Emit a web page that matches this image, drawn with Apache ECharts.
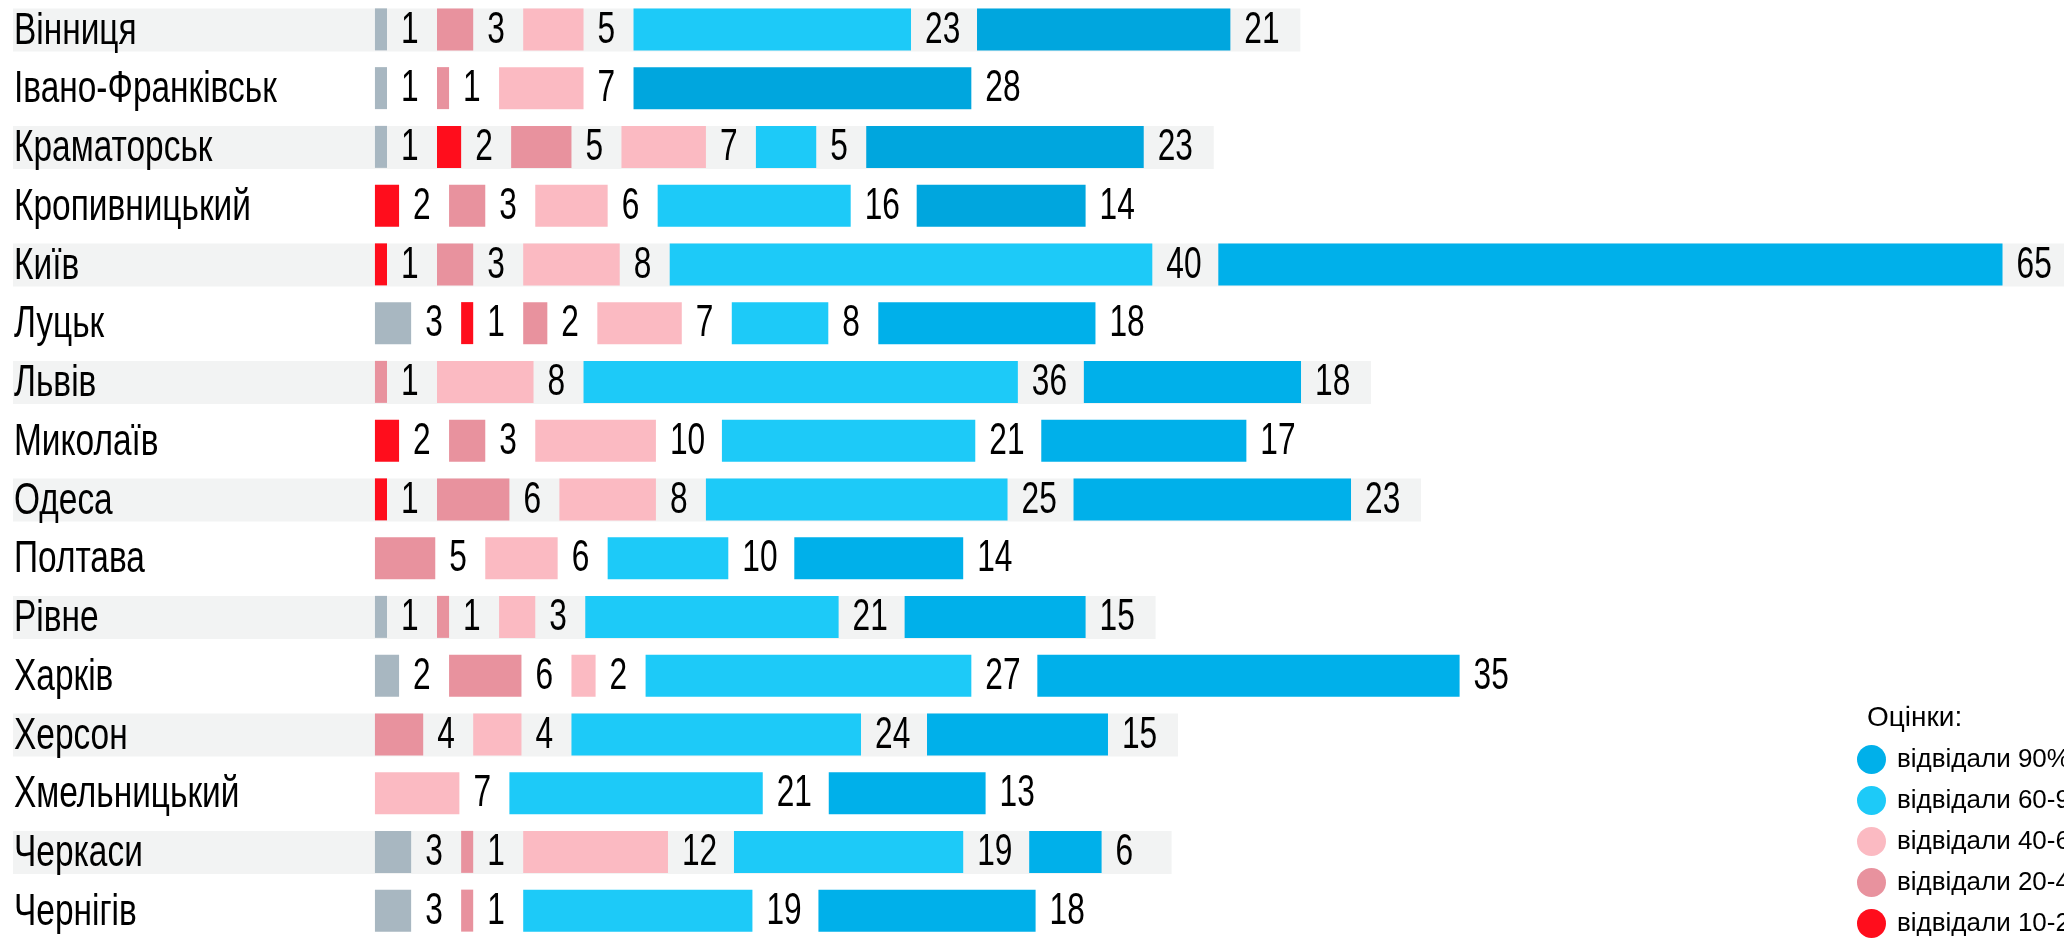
<!DOCTYPE html>
<html>
<head>
<meta charset="utf-8">
<script src="https://cdn.jsdelivr.net/npm/echarts@6/dist/echarts.min.js"></script>
<style>
  html, body { margin: 0; padding: 0; background: #fff; }
  #chart { width: 2064px; height: 940px; }
</style>
</head>
<body>
<div id="chart"></div>
<script>
// categories, top to bottom
const cities = ['Вінниця', 'Івано-Франківськ', 'Краматорськ', 'Кропивницький', 'Київ', 'Луцьк', 'Львів',
  'Миколаїв', 'Одеса', 'Полтава', 'Рівне', 'Харків', 'Херсон', 'Хмельницький', 'Черкаси', 'Чернігів'];

// counts per attendance group
const grey      = [1, 1, 1, 0, 0, 3, 0, 0, 0, 0, 1, 2, 0, 0, 3, 3];
const red       = [0, 0, 2, 2, 1, 1, 0, 2, 1, 0, 0, 0, 0, 0, 0, 0];
const pinkDark  = [3, 1, 5, 3, 3, 2, 1, 3, 6, 5, 1, 6, 4, 0, 1, 1];
const pink      = [5, 7, 7, 6, 8, 7, 8, 10, 8, 6, 3, 2, 4, 7, 12, 0];
const blueLight = [23, 0, 5, 16, 40, 8, 36, 21, 25, 10, 21, 27, 24, 21, 19, 19];
const blueDark  = [21, 28, 23, 14, 65, 18, 18, 17, 23, 14, 15, 35, 15, 13, 6, 18];

const groupNames = ['відвідали менше 10%', 'відвідали 10-20%', 'відвідали 20-40%',
  'відвідали 40-60%', 'відвідали 60-90%', 'відвідали 90% і більше'];
const legendTitle = 'Оцінки:';

const FONT = 'Liberation Sans, Arial, sans-serif';
const TEXT_SCALE = 0.72;   // squeeze text to a condensed look
const X_MIN = -30, X_MAX = 140;
const GRID_LEFT = 13;

let chart = echarts.init(document.getElementById('chart'));
const pxPerUnit = (chart.getWidth() - GRID_LEFT) / (X_MAX - X_MIN);
// blank space after a bar holds its label
function gapUnits(v) {
  if (!v) return 0;
  return (v >= 10 ? 66 : 50) / pxPerUnit;
}
const tailUnits = 70 / pxPerUnit;

const groups = [
  { name: groupNames[0], data: grey, color: '#A8B7C1' },
  { name: groupNames[1], data: red, color: '#FF0D1C' },
  { name: groupNames[2], data: pinkDark, color: '#E8929E' },
  { name: groupNames[3], data: pink, color: '#FBBAC2' },
  { name: groupNames[4], data: blueLight, color: '#1DCAF8' },
  { name: groupNames[5], data: blueDark, color: '#00B0EA' }
];

// label anchors (end of each bar) and row ends
let labelData = [];
let rowEnd = cities.map(function (c, i) {
  let s = 0;
  groups.forEach(function (g, k) {
    let v = g.data[i];
    s += v;
    if (v > 0) labelData.push([s, i, v]);
    if (k < groups.length - 1) s += gapUnits(v);
  });
  return s;
});

let series = [
  {
    type: 'bar', name: 'bgL', silent: true, barWidth: 43, barGap: '-100%', z: 1,
    itemStyle: { color: '#F2F3F3' },
    data: cities.map(function (c, i) { return i % 2 === 0 ? X_MIN : 0; })
  },
  {
    type: 'bar', name: 'bgR', silent: true, barWidth: 43, barGap: '-100%', z: 1,
    itemStyle: { color: '#F2F3F3' },
    data: cities.map(function (c, i) { return i % 2 === 0 ? rowEnd[i] + tailUnits : 0; })
  }
];

groups.forEach(function (g, k) {
  let color = g.color;
  if (k === groups.length - 1) {
    // the top rows use a slightly deeper blue in the original
    color = function (p) { return p.dataIndex < 4 ? '#00A6DE' : g.color; };
  }
  series.push({
    type: 'bar', name: g.name, stack: 'rows', barWidth: 42, barGap: '-100%', z: 2,
    itemStyle: { color: color },
    data: g.data
  });
  if (k < groups.length - 1) {
    series.push({
      type: 'bar', name: 'gap' + k, stack: 'rows', barWidth: 42, silent: true, z: 2,
      itemStyle: { color: 'transparent' },
      data: g.data.map(gapUnits)
    });
  }
});

// value labels
series.push({
  type: 'custom', name: 'labels', silent: true, z: 5,
  encode: { x: 0, y: 1 },
  data: labelData,
  renderItem: function (params, api) {
    let p = api.coord([api.value(0), api.value(1)]);
    return {
      type: 'text', x: p[0] + 14, y: p[1] + 1, scaleX: TEXT_SCALE,
      style: { text: String(api.value(2)), fontSize: 44, fontFamily: FONT, fill: '#000', align: 'left', verticalAlign: 'middle' }
    };
  }
});

// city names
series.push({
  type: 'custom', name: 'cities', silent: true, z: 5,
  encode: { x: 0, y: 1 },
  data: cities.map(function (c, i) { return [X_MIN, i]; }),
  renderItem: function (params, api) {
    let p = api.coord([api.value(0), api.value(1)]);
    return {
      type: 'text', x: p[0] + 1, y: p[1] + 2, scaleX: 0.76,
      style: { text: cities[params.dataIndex], fontSize: 44, fontFamily: FONT, fill: '#000', align: 'left', verticalAlign: 'middle' }
    };
  }
});

// legend lists the five named groups, darkest blue first
let legendItems = groups.slice(1).reverse().map(function (g) {
  return { name: g.name, itemStyle: { color: g.color } };
});

chart.setOption({
  animation: false,
  title: {
    text: legendTitle, left: 1867, top: 704, padding: 0,
    textStyle: { fontSize: 28, fontWeight: 'normal', fontFamily: FONT, color: '#000' }
  },
  legend: {
    orient: 'vertical', left: 1857, top: 745, padding: 0,
    icon: 'circle', itemWidth: 29, itemHeight: 29, itemGap: 12,
    data: legendItems,
    textStyle: { fontSize: 26, fontFamily: FONT, color: '#000', lineHeight: 29, padding: [0, 0, 0, 6] }
  },
  grid: { left: GRID_LEFT, right: 0, top: 0, bottom: -6, containLabel: false },
  xAxis: {
    type: 'value', min: X_MIN, max: X_MAX, show: false
  },
  yAxis: {
    type: 'category', data: cities, inverse: true,
    axisLine: { show: false, onZero: false }, axisTick: { show: false },
    axisLabel: { show: false }
  },
  series: series
});
</script>
</body>
</html>
